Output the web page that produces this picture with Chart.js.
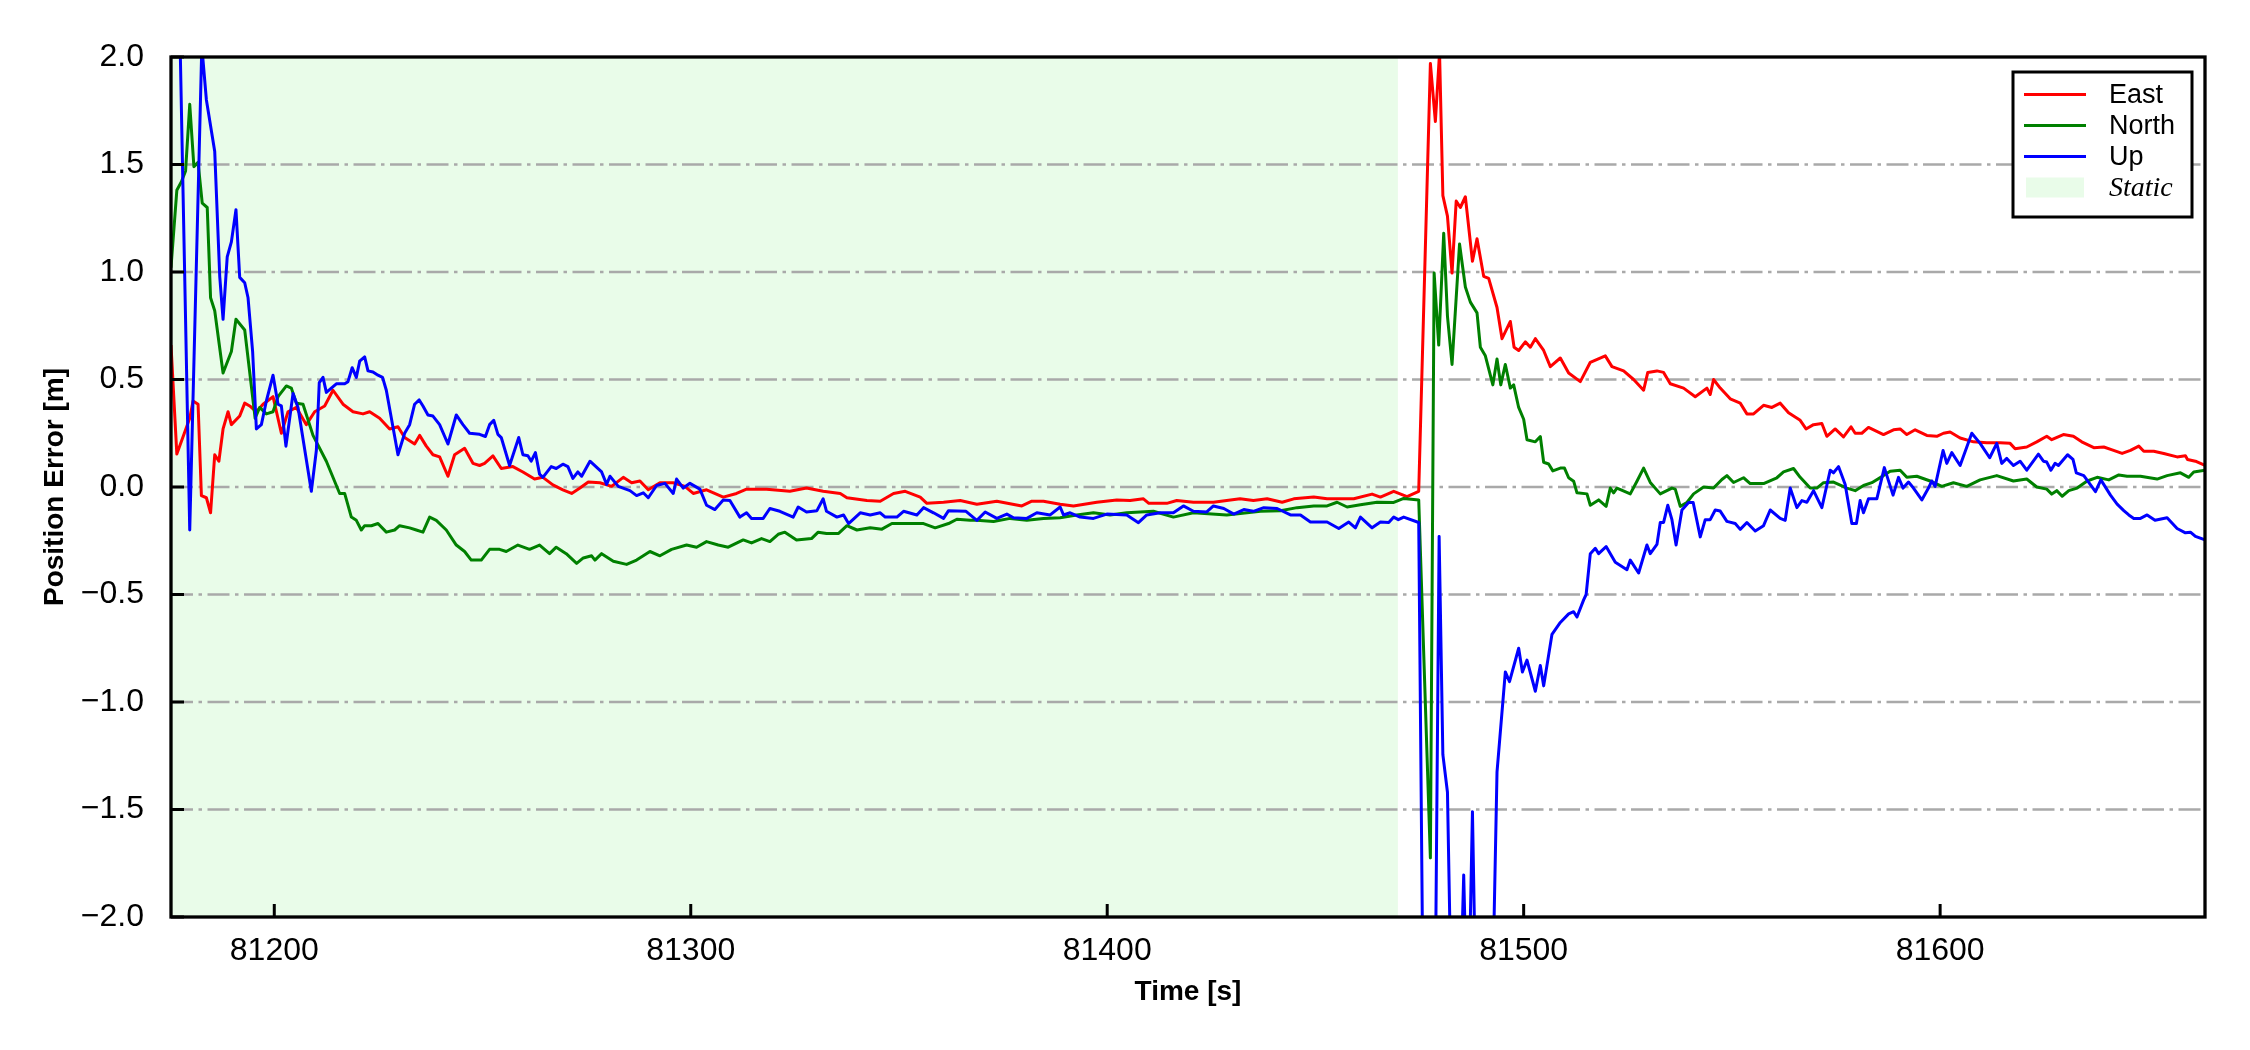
<!DOCTYPE html>
<html><head><meta charset="utf-8">
<script src="https://cdn.jsdelivr.net/npm/chart.js@4.4.1/dist/chart.umd.min.js"></script>
<style>html,body{margin:0;padding:0;background:#fff;}canvas{display:block;}</style>
</head><body>
<canvas id="c" width="2250" height="1050"></canvas>
<script>
// ---------------- data ----------------
const eastT = [81175.2,81176.6,81179.7,81180.5,81181.7,81182.5,81183.7,81184.7,81185.7,81186.7,81187.7,81188.9,81189.7,81191.7,81192.9,81194.1,81195.7,81197.3,81199.7,81201.7,81203.3,81205.3,81207.7,81209.7,81212.1,81214.1,81216.5,81218.9,81221.3,81222.9,81225.3,81227.7,81229.7,81231.3,81233.7,81234.9,81236.5,81238.1,81239.7,81241.7,81243.3,81245.7,81247.7,81249.3,81250.5,81252.5,81254.5,81257.3,81259.7,81262.5,81264.5,81266.9,81269.3,81271.4,81273.4,81275.4,81278.2,81281.0,81283.8,81285.8,81287.8,81289.8,81292.6,81295.8,81298.6,81300.6,81303.8,81307.8,81311.0,81313.4,81318.2,81323.8,81327.8,81331.8,81335.9,81337.5,81342.3,81345.5,81348.7,81351.5,81355.1,81356.7,81360.7,81364.7,81368.7,81373.5,81379.5,81381.9,81384.7,81388.7,81391.9,81397.5,81402.3,81405.5,81408.7,81410.0,81414.3,81416.7,81420.7,81425.5,81428.7,81431.9,81435.1,81438.4,81442.0,81444.8,81449.6,81452.8,81459.2,81463.6,81465.6,81468.8,81472.0,81474.8,81477.6,81478.8,81479.8,81480.6,81481.7,81482.8,81483.8,81484.8,81486.0,81487.7,81488.8,81490.4,81491.6,81493.6,81494.8,81496.8,81497.7,81498.8,81500.4,81501.6,81502.8,81504.8,81506.4,81508.8,81510.8,81513.6,81516.0,81519.6,81521.2,81524.0,81526.4,81528.8,81529.8,81532.0,81533.6,81535.2,81538.4,81541.2,81544.0,81544.8,81545.6,81547.2,81549.6,81552.0,81553.6,81555.2,81557.6,81559.6,81561.6,81563.6,81566.4,81567.8,81569.6,81571.6,81572.8,81574.8,81576.8,81578.6,81579.6,81581.2,81582.8,81586.4,81588.8,81590.4,81592.0,81594.0,81596.8,81599.2,81600.8,81602.4,81604.8,81608.0,81611.2,81614.4,81616.8,81618.0,81620.8,81623.2,81625.6,81626.8,81629.6,81632.0,81634.0,81636.9,81639.3,81641.3,81643.7,81645.7,81647.7,81648.9,81651.3,81653.7,81656.9,81658.9,81659.4,81661.3,81663.6];
const eastV = [0.66,0.153,0.32,0.40,0.385,-0.04,-0.05,-0.12,0.15,0.12,0.27,0.35,0.29,0.33,0.39,0.377,0.35,0.385,0.42,0.25,0.35,0.37,0.29,0.35,0.377,0.45,0.385,0.35,0.34,0.35,0.32,0.27,0.28,0.23,0.20,0.24,0.19,0.15,0.14,0.05,0.15,0.18,0.11,0.10,0.11,0.145,0.086,0.095,0.07,0.037,0.045,0.01,-0.013,-0.03,-0.005,0.023,0.02,0.003,0.045,0.02,0.028,-0.013,0.02,0.02,0.003,-0.03,-0.013,-0.047,-0.03,-0.01,-0.01,-0.02,-0.005,-0.02,-0.03,-0.05,-0.063,-0.066,-0.03,-0.02,-0.047,-0.076,-0.071,-0.063,-0.08,-0.066,-0.088,-0.066,-0.066,-0.08,-0.088,-0.071,-0.06,-0.063,-0.055,-0.076,-0.076,-0.063,-0.071,-0.071,-0.063,-0.055,-0.063,-0.055,-0.071,-0.055,-0.047,-0.055,-0.055,-0.033,-0.047,-0.02,-0.045,-0.02,1.97,1.70,2.02,1.355,1.26,0.995,1.33,1.30,1.35,1.05,1.155,0.98,0.97,0.835,0.69,0.77,0.65,0.635,0.675,0.65,0.69,0.635,0.56,0.60,0.53,0.49,0.58,0.61,0.56,0.54,0.50,0.45,0.533,0.54,0.533,0.48,0.46,0.42,0.46,0.43,0.50,0.46,0.41,0.39,0.34,0.34,0.38,0.37,0.39,0.345,0.31,0.27,0.29,0.295,0.236,0.27,0.233,0.28,0.25,0.25,0.277,0.244,0.266,0.27,0.244,0.266,0.24,0.236,0.25,0.256,0.228,0.21,0.206,0.206,0.203,0.178,0.186,0.21,0.236,0.22,0.244,0.236,0.21,0.183,0.186,0.173,0.156,0.17,0.19,0.166,0.166,0.156,0.14,0.145,0.128,0.12,0.10];

const northT = [81175.2,81176.6,81177.7,81178.7,81179.7,81180.7,81181.7,81182.7,81183.9,81184.7,81185.7,81187.7,81189.7,81190.8,81192.9,81194.0,81195.4,81196.5,81198.1,81199.7,81200.9,81202.9,81204.1,81205.3,81206.9,81209.3,81212.5,81215.7,81216.9,81218.5,81219.7,81220.9,81221.7,81223.3,81224.9,81226.9,81228.9,81230.1,81232.5,81234.1,81235.7,81237.3,81238.9,81241.3,81243.7,81245.7,81247.3,81249.7,81251.7,81254.1,81255.7,81258.5,81261.3,81263.7,81266.1,81267.7,81270.1,81272.6,81274.2,81276.2,81277.0,81278.6,81281.4,81284.6,81287.0,81290.2,81292.6,81295.4,81299.0,81301.4,81303.8,81306.6,81309.0,81312.6,81314.6,81317.0,81319.0,81321.0,81322.6,81325.4,81329.0,81330.6,81332.6,81335.5,81337.5,81339.9,81343.1,81345.9,81348.3,81352.7,81355.9,81358.7,81361.9,81363.9,81367.1,81368.7,81372.7,81376.7,81380.7,81384.7,81388.7,81392.7,81396.7,81400.7,81404.7,81411.1,81415.9,81420.7,81428.7,81436.8,81441.6,81445.6,81449.6,81452.8,81455.2,81457.6,81460.8,81464.8,81468.8,81471.2,81474.8,81477.6,81478.5,81479.6,81480.8,81481.7,81482.8,81484.6,81486.0,81487.2,81488.8,81489.6,81490.8,81492.6,81493.6,81494.5,81495.6,81496.8,81497.6,81498.8,81500.0,81500.8,81502.8,81504.0,81504.8,81506.0,81507.0,81508.8,81509.8,81510.8,81512.0,81512.8,81515.2,81516.0,81518.0,81519.8,81520.8,81521.6,81522.4,81525.6,81527.2,81528.8,81530.4,81532.8,81535.6,81536.4,81537.6,81539.2,81540.8,81543.2,81545.6,81547.6,81548.8,81550.4,81552.8,81554.4,81557.6,81560.8,81562.4,81564.8,81566.4,81568.8,81570.4,81572.0,81574.4,81577.6,81579.6,81581.6,81583.6,81586.4,81588.0,81590.4,81592.0,81594.4,81597.6,81600.4,81603.2,81606.4,81609.6,81613.6,81617.6,81620.8,81623.2,81625.6,81626.8,81628.0,81629.3,81630.9,81632.9,81635.3,81637.7,81640.5,81642.9,81644.9,81648.1,81652.1,81654.5,81657.7,81659.7,81660.9,81663.6];
const northV = [1.02,1.38,1.42,1.47,1.78,1.49,1.51,1.32,1.30,0.88,0.82,0.53,0.63,0.78,0.73,0.55,0.32,0.37,0.34,0.35,0.42,0.47,0.46,0.39,0.385,0.24,0.12,-0.03,-0.03,-0.14,-0.155,-0.20,-0.18,-0.18,-0.17,-0.21,-0.20,-0.18,-0.19,-0.20,-0.21,-0.14,-0.155,-0.20,-0.27,-0.30,-0.34,-0.34,-0.29,-0.29,-0.30,-0.27,-0.29,-0.27,-0.31,-0.28,-0.31,-0.355,-0.33,-0.32,-0.34,-0.31,-0.345,-0.36,-0.34,-0.30,-0.32,-0.29,-0.27,-0.28,-0.254,-0.27,-0.28,-0.246,-0.26,-0.24,-0.254,-0.22,-0.21,-0.246,-0.24,-0.21,-0.216,-0.216,-0.18,-0.20,-0.19,-0.196,-0.17,-0.17,-0.17,-0.19,-0.17,-0.15,-0.155,-0.155,-0.16,-0.146,-0.155,-0.146,-0.143,-0.13,-0.12,-0.13,-0.12,-0.113,-0.14,-0.12,-0.13,-0.113,-0.11,-0.096,-0.088,-0.088,-0.071,-0.093,-0.083,-0.071,-0.072,-0.053,-0.06,-1.725,0.995,0.66,1.18,0.795,0.57,1.13,0.93,0.86,0.81,0.65,0.61,0.475,0.595,0.475,0.57,0.46,0.475,0.37,0.315,0.22,0.21,0.235,0.115,0.107,0.075,0.088,0.088,0.043,0.027,-0.027,-0.032,-0.085,-0.06,-0.09,-0.005,-0.027,-0.005,-0.032,0.027,0.088,0.021,-0.032,-0.005,-0.01,-0.09,-0.072,-0.032,0.0,-0.005,0.035,0.053,0.021,0.043,0.016,0.016,0.043,0.07,0.086,0.045,-0.005,-0.005,0.02,0.023,-0.005,-0.017,0.007,0.02,0.053,0.073,0.078,0.045,0.05,0.028,0.003,0.02,0.003,0.033,0.053,0.028,0.037,0.0,-0.01,-0.033,-0.017,-0.043,-0.017,-0.005,0.028,0.045,0.033,0.056,0.05,0.05,0.037,0.053,0.066,0.045,0.07,0.078];

const upT = [81175.2,81179.7,81182.6,81183.7,81185.7,81186.9,81187.7,81188.7,81189.7,81190.8,81191.7,81192.9,81193.7,81194.8,81195.7,81196.9,81198.1,81199.7,81200.9,81201.7,81202.8,81204.5,81205.7,81208.9,81210.1,81210.8,81211.7,81212.5,81214.9,81216.9,81217.7,81218.7,81219.7,81220.5,81221.7,81222.5,81223.7,81224.9,81226.0,81226.9,81229.7,81231.3,81232.5,81233.7,81234.8,81235.7,81236.9,81238.1,81239.7,81241.7,81243.7,81245.3,81246.9,81249.3,81250.7,81251.7,81252.7,81253.7,81254.5,81256.5,81258.7,81259.7,81260.9,81261.7,81262.7,81263.7,81264.5,81266.5,81267.7,81269.3,81270.5,81271.7,81272.9,81273.8,81275.8,81278.6,81279.8,81280.6,81282.6,81285.4,81287.0,81288.6,81289.8,81291.8,81293.8,81295.8,81296.6,81298.2,81299.8,81302.2,81303.8,81305.8,81307.8,81309.4,81311.8,81313.4,81314.6,81317.4,81319.0,81321.4,81324.6,81325.8,81327.8,81330.3,81331.8,81332.6,81335.1,81336.7,81337.9,81340.7,81343.1,81345.5,81346.7,81349.5,81351.1,81354.3,81355.9,81358.3,81360.7,81361.9,81366.1,81368.7,81370.7,81373.5,81375.9,81377.5,81380.7,81383.1,81386.3,81388.7,81389.5,81391.1,81393.5,81396.7,81399.9,81404.7,81407.5,81409.5,81412.7,81415.9,81418.3,81420.7,81423.9,81425.5,81428.0,81430.4,81432.8,81435.1,81437.6,81440.8,81444.0,81446.4,81448.8,81452.8,81455.6,81458.0,81459.6,81460.8,81463.6,81465.6,81467.6,81468.8,81469.9,81471.2,81474.8,81476.5,81478.5,81479.7,81480.6,81481.7,81483.0,81484.5,81485.6,81486.6,81487.7,81488.8,81491.0,81492.6,81493.6,81495.6,81496.6,81498.8,81499.7,81500.8,81502.8,81504.0,81504.8,81506.8,81508.8,81510.8,81512.0,81512.8,81514.4,81515.0,81516.0,81517.2,81518.0,81519.8,81522.0,81524.8,81525.6,81527.6,81529.6,81530.4,81532.0,81532.8,81533.6,81534.6,81535.6,81536.6,81538.0,81539.6,81540.7,81542.4,81543.6,81544.8,81546.0,81547.2,81548.8,81550.8,81552.0,81553.6,81555.6,81557.6,81559.2,81561.6,81562.8,81564.0,81565.6,81566.8,81568.0,81569.6,81571.6,81573.6,81574.4,81575.6,81577.2,81578.8,81579.9,81580.8,81581.6,81582.8,81584.8,81586.6,81588.7,81590.0,81591.1,81592.4,81593.6,81595.6,81597.2,81598.0,81598.8,81600.7,81601.6,81602.8,81604.8,81607.6,81609.6,81611.9,81613.6,81614.8,81616.0,81617.6,81619.2,81620.8,81623.6,81624.8,81625.6,81626.6,81627.6,81628.4,81630.6,81631.9,81632.7,81634.5,81637.3,81638.6,81640.9,81642.5,81644.1,81645.3,81646.5,81648.1,81649.7,81651.6,81654.5,81656.9,81658.9,81660.1,81661.3,81663.6];
const upV = [4.2,-0.20,2.05,1.80,1.56,0.98,0.78,1.07,1.14,1.29,0.975,0.95,0.88,0.63,0.27,0.29,0.40,0.52,0.385,0.377,0.19,0.435,0.37,-0.02,0.17,0.485,0.51,0.44,0.48,0.48,0.49,0.555,0.51,0.585,0.605,0.54,0.535,0.52,0.51,0.45,0.15,0.25,0.29,0.385,0.405,0.377,0.335,0.33,0.29,0.20,0.335,0.29,0.25,0.245,0.235,0.29,0.31,0.245,0.23,0.10,0.23,0.15,0.145,0.12,0.16,0.06,0.045,0.095,0.086,0.106,0.095,0.04,0.07,0.05,0.12,0.07,0.012,0.05,0.003,-0.017,-0.04,-0.027,-0.05,0.007,0.017,-0.03,0.037,-0.005,0.017,-0.01,-0.085,-0.105,-0.06,-0.063,-0.14,-0.12,-0.146,-0.146,-0.10,-0.113,-0.14,-0.093,-0.116,-0.11,-0.055,-0.113,-0.14,-0.13,-0.17,-0.12,-0.13,-0.12,-0.14,-0.14,-0.113,-0.13,-0.096,-0.12,-0.146,-0.11,-0.113,-0.155,-0.116,-0.146,-0.126,-0.143,-0.146,-0.12,-0.13,-0.093,-0.13,-0.12,-0.14,-0.146,-0.126,-0.13,-0.166,-0.13,-0.12,-0.12,-0.088,-0.113,-0.116,-0.088,-0.10,-0.126,-0.105,-0.113,-0.096,-0.10,-0.13,-0.13,-0.163,-0.163,-0.193,-0.163,-0.19,-0.14,-0.19,-0.163,-0.165,-0.14,-0.152,-0.14,-0.165,-3.8,-3.0,-0.23,-1.245,-1.42,-2.8,-2.6,-1.805,-2.6,-1.51,-2.7,-3.2,-2.3,-1.325,-0.86,-0.905,-0.75,-0.86,-0.805,-0.95,-0.83,-0.925,-0.685,-0.63,-0.59,-0.58,-0.605,-0.525,-0.50,-0.31,-0.285,-0.31,-0.277,-0.35,-0.385,-0.34,-0.40,-0.27,-0.31,-0.267,-0.165,-0.165,-0.085,-0.152,-0.27,-0.107,-0.072,-0.072,-0.232,-0.152,-0.152,-0.107,-0.112,-0.16,-0.17,-0.197,-0.165,-0.205,-0.18,-0.107,-0.146,-0.155,-0.005,-0.096,-0.063,-0.071,-0.017,-0.096,0.078,0.066,0.095,0.012,-0.17,-0.17,-0.063,-0.12,-0.055,-0.055,0.09,-0.038,0.045,-0.005,0.023,-0.005,-0.06,-0.005,0.028,0.003,0.17,0.11,0.16,0.10,0.25,0.203,0.136,0.203,0.11,0.133,0.10,0.12,0.078,0.153,0.12,0.116,0.078,0.11,0.10,0.15,0.128,0.066,0.053,-0.022,0.033,-0.038,-0.08,-0.11,-0.13,-0.146,-0.146,-0.13,-0.155,-0.143,-0.193,-0.213,-0.21,-0.23,-0.246];

const seriesNames = ['East', 'North', 'Up'];
const seriesColors = ['#ff0000', '#008000', '#0000ff'];
const xTicks = [81200, 81300, 81400, 81500, 81600];
const yTicks = [-2, -1.5, -1, -0.5, 0, 0.5, 1, 1.5, 2];
const xRange = [81175.2, 81663.6];
const yRange = [-2, 2];
const staticSpan = [81175.2, 81469.8];
const staticLabel = 'Static';
const xTitle = 'Time [s]';
const yTitle = 'Position Error [m]';

// ---------------- styles ----------------
const SANS = '"Liberation Sans", Arial, Helvetica, sans-serif';
const SERIF = '"Liberation Serif", "Times New Roman", serif';
const STATIC_FILL = 'rgb(233,252,233)';
const GRID_COLOR = '#a9a9a9';

const toXY = (ts, vs) => ts.map((t, i) => ({x: t, y: vs[i]}));
const allT = [eastT, northT, upT];
const allV = [eastV, northV, upV];

const decor = {
  id: 'decor',
  beforeDatasetsDraw(chart) {
    const {ctx, chartArea: a, scales: {x, y}} = chart;
    ctx.save();
    const x0 = x.getPixelForValue(staticSpan[0]);
    const x1 = x.getPixelForValue(staticSpan[1]);
    ctx.fillStyle = STATIC_FILL;
    ctx.fillRect(x0, a.top, x1 - x0, a.bottom - a.top);
    ctx.strokeStyle = GRID_COLOR;
    ctx.lineWidth = 2.5;
    ctx.setLineDash([22, 5.5, 3.5, 5.5]);
    for (const v of yTicks) {
      const py = y.getPixelForValue(v);
      if (py <= a.top + 1 || py >= a.bottom - 1) continue;
      ctx.beginPath(); ctx.moveTo(a.left, py); ctx.lineTo(a.right, py); ctx.stroke();
    }
    ctx.restore();
  },
  afterDatasetsDraw(chart) {
    const {ctx, chartArea: a, scales: {x, y}} = chart;
    ctx.save();
    ctx.strokeStyle = '#000';
    ctx.lineWidth = 3;
    ctx.setLineDash([]);
    for (const v of xTicks) {
      const px = x.getPixelForValue(v);
      ctx.beginPath(); ctx.moveTo(px, a.bottom); ctx.lineTo(px, a.bottom - 13); ctx.stroke();
    }
    for (const v of yTicks) {
      const py = y.getPixelForValue(v);
      ctx.beginPath(); ctx.moveTo(a.left, py); ctx.lineTo(a.left + 13, py); ctx.stroke();
    }
    ctx.lineWidth = 3.3;
    ctx.strokeRect(a.left, a.top, a.right - a.left, a.bottom - a.top);

    // legend
    const bw = 179, bh = 145;
    const bx = a.right - 192, by = a.top + 15;
    ctx.fillStyle = '#fff';
    ctx.fillRect(bx, by, bw, bh);
    ctx.lineWidth = 3;
    ctx.strokeRect(bx, by, bw, bh);
    const rowY = i => by + 22.5 + i * 31;
    ctx.textAlign = 'left';
    ctx.textBaseline = 'middle';
    for (let i = 0; i < seriesNames.length; i++) {
      const yy = rowY(i);
      ctx.strokeStyle = seriesColors[i];
      ctx.lineWidth = 3;
      ctx.beginPath(); ctx.moveTo(bx + 11, yy); ctx.lineTo(bx + 73, yy); ctx.stroke();
      ctx.fillStyle = '#000';
      ctx.font = '27px ' + SANS;
      ctx.fillText(seriesNames[i], bx + 96, yy + 1);
    }
    const ys = rowY(3);
    ctx.fillStyle = STATIC_FILL;
    ctx.fillRect(bx + 13, ys - 10, 58, 20);
    ctx.fillStyle = '#000';
    ctx.font = 'italic 28px ' + SERIF;
    ctx.fillText(staticLabel, bx + 96, ys + 1);
    ctx.restore();
  }
};

const fmtY = v => (v < 0 ? '\u2212' : '') + Math.abs(v).toFixed(1);

new Chart(document.getElementById('c'), {
  type: 'line',
  data: {
    datasets: seriesNames.map((name, i) => ({
      label: name,
      data: toXY(allT[i], allV[i]),
      borderColor: seriesColors[i],
      backgroundColor: seriesColors[i],
      borderWidth: 3,
      pointRadius: 0,
      pointHoverRadius: 0,
      tension: 0,
      fill: false,
      borderJoinStyle: 'round',
      clip: 0,
      order: 3 - i
    }))
  },
  options: {
    responsive: false,
    devicePixelRatio: 1,
    animation: false,
    events: [],
    layout: {padding: {left: 0, top: 57, right: 45, bottom: 0}},
    plugins: {legend: {display: false}, tooltip: {enabled: false}},
    scales: {
      x: {
        type: 'linear',
        position: 'bottom',
        min: xRange[0],
        max: xRange[1],
        grid: {display: false},
        border: {display: false},
        afterBuildTicks: s => { s.ticks = xTicks.map(v => ({value: v})); },
        afterFit: s => { s.height = 133; s.paddingLeft = 0; s.paddingRight = 0; },
        ticks: {
          color: '#000',
          font: {family: SANS, size: 32},
          padding: 7,
          maxRotation: 0,
          autoSkip: false,
          callback: v => String(v)
        },
        title: {
          display: true,
          text: xTitle,
          color: '#000',
          font: {family: SANS, size: 28, weight: 'bold'},
          padding: {top: 0, bottom: 41}
        }
      },
      y: {
        type: 'linear',
        position: 'left',
        min: yRange[0],
        max: yRange[1],
        grid: {display: false},
        border: {display: false},
        afterBuildTicks: s => { s.ticks = yTicks.map(v => ({value: v})); },
        afterFit: s => { s.width = 171; s.paddingTop = 0; s.paddingBottom = 0; },
        ticks: {
          color: '#000',
          font: {family: SANS, size: 32},
          padding: 19,
          autoSkip: false,
          callback: v => fmtY(v)
        },
        title: {
          display: true,
          text: yTitle,
          color: '#000',
          font: {family: SANS, size: 28, weight: 'bold'},
          padding: {top: 38, bottom: 0}
        }
      }
    }
  },
  plugins: [decor]
});
</script>
</body></html>
